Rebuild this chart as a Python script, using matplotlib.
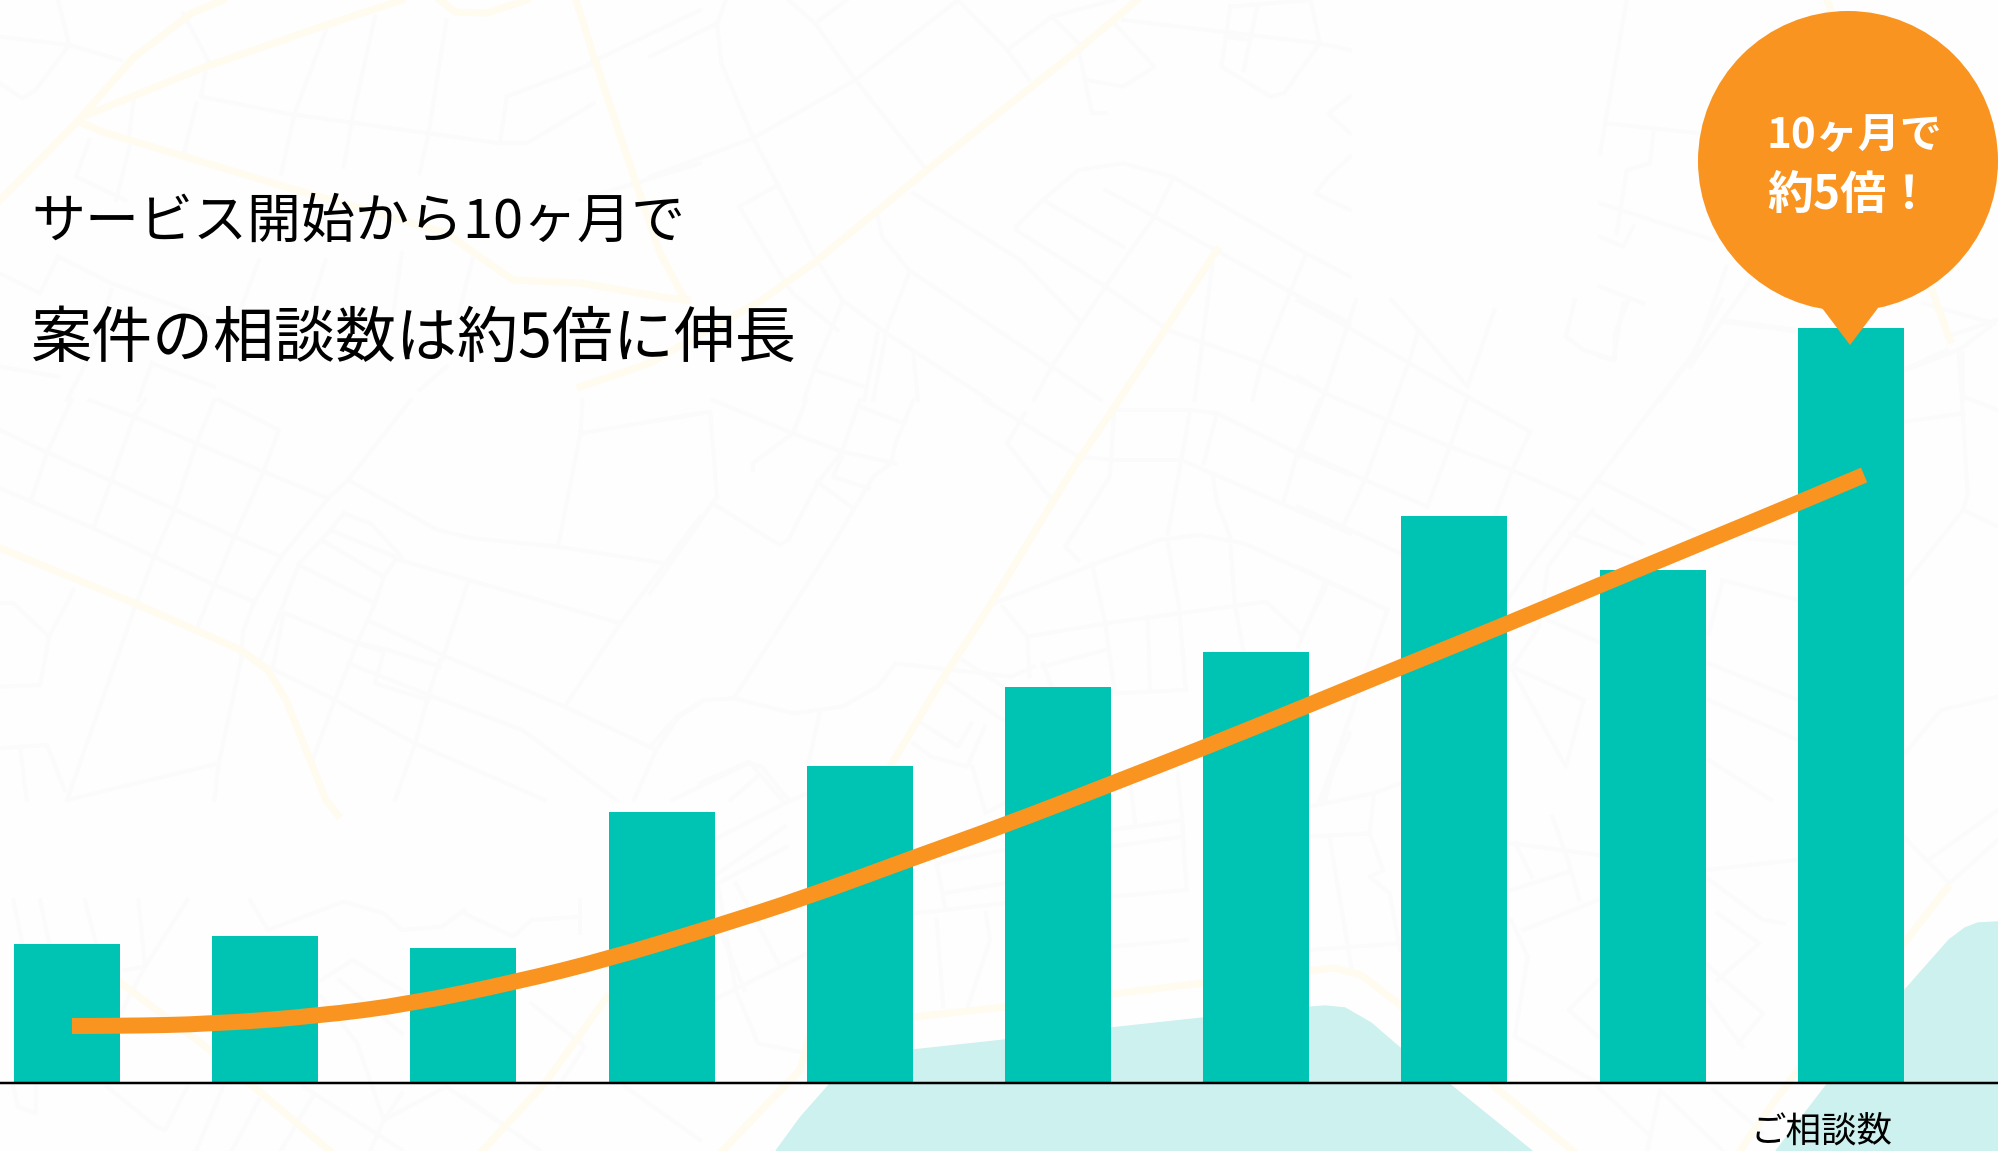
"""plot.py - ご相談数の月次推移（棒グラフ＋近似曲線）を地図風の背景の上に描く。"""

import matplotlib
matplotlib.use("Agg")
import matplotlib.pyplot as plt
from matplotlib.patches import Circle, PathPatch, Polygon
from matplotlib.path import Path

plt.rcParams["font.family"] = ["Noto Sans CJK JP", "DejaVu Sans"]

WIDTH, HEIGHT = 1998, 1151
BASE_Y = 1083          # 棒の基線（ピクセル）
FIRST_X = 67           # 1本目の棒の中心
STEP_X = 198.2         # 棒の間隔
BAR_WIDTH = 106 / STEP_X

# データ（単位は任意）
months = [0, 1, 2, 3, 4, 5, 6, 7, 8, 9]
counts = [139, 147, 135, 271, 317, 396, 431, 567, 513, 755]

trend_x = [0.025, 0.267, 0.732, 1.266, 1.731, 2.265, 2.73, 3.264, 3.734, 4.268,
           4.733, 5.267, 5.732, 6.266, 6.731, 7.265, 7.735, 8.27, 8.734, 9.067]
trend_y = [57, 57, 59, 67, 79, 101, 124, 156, 186, 225,
           258, 299, 335, 378, 416, 459, 498, 542, 580, 608]

title_lines = ["サービス開始から10ヶ月で", "案件の相談数は約5倍に伸長"]
callout_lines = ["10ヶ月で", "約5倍！"]
series_label = "ご相談数"

TEAL = "#00C4B3"
ORANGE = "#F99420"
WATER = "#CDF1EE"
STREET = "#FBFBFB"
ROAD = "#FFFBEE"

# 背景の地図：太い道路（ピクセル座標）
ROADS = [
    [(0, 200), (76, 123), (134, 57), (192, 13), (223, 0)],
    [(87, 115), (205, 67), (326, 25), (402, 0)],
    [(80, 122), (103, 132), (286, 187), (446, 233), (513, 280), (580, 283), (668, 298), (687, 300)],
    [(580, 387), (650, 363), (762, 300), (815, 262), (927, 170), (1078, 50), (1137, 0)],
    [(576, 0), (594, 57), (634, 177), (660, 253), (685, 300)],
    [(440, 0), (455, 12), (487, 13), (527, 0)],
    [(1217, 250), (1119, 400), (1074, 467), (989, 607), (940, 683), (891, 765), (855, 840),
     (820, 1000), (800, 1070), (722, 1151)],
    [(0, 548), (134, 603), (241, 650), (268, 670), (286, 700), (326, 800), (338, 815)],
    [(110, 975), (210, 1050), (330, 1151)],
    [(607, 997), (545, 1083), (482, 1151)],
    [(913, 1017), (1005, 1007), (1203, 983), (1334, 968), (1361, 975), (1400, 1005), (1495, 1087),
     (1573, 1151)],
    [(1740, 1151), (1763, 1117), (1798, 1070), (1904, 943), (1947, 888)],
    [(1827, 0), (1950, 340)],
]

# 背景の地図：水域
WATER_AREAS = [
    [(776, 1151), (800, 1118), (829, 1085), (880, 1056), (913, 1050), (1005, 1040), (1111, 1028), (1203, 1018),
     (1300, 1008), (1325, 1006), (1345, 1008), (1371, 1023), (1400, 1048), (1453, 1087), (1532, 1151)],
    [(1776, 1151), (1825, 1087), (1904, 991), (1949, 940), (1965, 928), (1978, 923), (1998, 922),
     (1998, 1151)],
]

# 背景の地図：細い街路。区画ごとに (原点x, 原点y, x倍率, y倍率, 折れ線群)
STREET_BLOCKS = [
    (0, 400, 2.24, 3, [
        [(160, 0), (105, 160), (70, 300)],
        [(325, 0), (300, 50), (250, 240), (210, 380)],
        [(480, 0), (440, 130), (390, 330), (345, 470), (300, 630), (150, 1200)],
        [(0, 90), (110, 160), (245, 240), (385, 325), (525, 410), (630, 470)],
        [(200, 0), (300, 50), (440, 130), (590, 215), (735, 295)],
        [(0, 265), (70, 305), (210, 385), (345, 470), (480, 555), (570, 605)],
        [(490, 0), (625, 90), (590, 215), (525, 410), (480, 555), (440, 690)],
        [(920, 0), (780, 240), (735, 295), (630, 470), (570, 605), (545, 690), (540, 780), (490, 1090), (480, 1200)],
        [(780, 240), (980, 390), (1060, 415), (1250, 440), (1490, 490)],
        [(1305, 0), (1300, 100), (1250, 440)],
        [(1300, 100), (1568, 40)],
        [(1568, 350), (1490, 490), (1390, 670), (1265, 920)],
        [(895, 480), (1050, 540), (1390, 670)],
        [(1050, 540), (990, 780)],
        [(770, 340), (740, 390), (720, 420), (670, 490), (630, 630), (580, 790)],
        [(770, 340), (830, 370), (900, 470)],
        [(740, 390), (885, 470)],
        [(720, 420), (860, 530)],
        [(670, 495), (840, 610)],
        [(885, 480), (860, 530), (840, 610), (800, 730), (750, 900), (700, 1080)],
        [(640, 640), (790, 725), (870, 750), (985, 800)],
        [(830, 665), (1000, 770), (1265, 920), (1470, 1050)],
        [(635, 645), (610, 810)],
        [(800, 730), (860, 755), (840, 850), (960, 900)],
        [(780, 790), (960, 885), (1170, 990), (1380, 1200)],
        [(540, 760), (750, 900), (930, 1030), (1220, 1200)],
        [(985, 780), (960, 885), (930, 1030), (885, 1200)],
        [(165, 570), (110, 710), (90, 855), (0, 860)],
        [(0, 610), (30, 610), (110, 710)],
        [(0, 1045), (105, 1035), (145, 1170)],
        [(45, 1045), (60, 1200)],
        [(150, 1200), (490, 1090)],
        [(1470, 1050), (1420, 1200)],
        [(1470, 1050), (1520, 950), (1568, 910)],
    ]),
    (0, 0, 2.24, 3, [
        [(130, 0), (155, 135), (80, 270), (50, 295), (0, 250)],
        [(0, 110), (155, 135), (270, 180)],
        [(410, 40), (470, 190)],
        [(300, 290), (290, 400)],
        [(460, 220), (450, 290), (640, 340), (960, 400), (1120, 430), (1180, 430), (1330, 310)],
        [(1120, 430), (1135, 290), (1330, 190)],
        [(730, 90), (660, 340), (630, 520)],
        [(840, 50), (790, 350), (770, 500)],
        [(1000, 60), (960, 400), (940, 520)],
        [(1320, 190), (1568, 30)],
        [(200, 420), (170, 530), (280, 600)],
        [(290, 440), (260, 600)],
        [(440, 310), (410, 470)],
        [(130, 770), (90, 880), (0, 820)],
        [(130, 770), (250, 850), (480, 960)],
        [(580, 780), (530, 960)],
        [(730, 780), (700, 900)],
        [(900, 760), (880, 950)],
        [(1060, 770), (1020, 980)],
        [(250, 870), (200, 1070), (150, 1200)],
        [(0, 1100), (130, 1130)],
        [(340, 1090), (310, 1200)],
        [(340, 1090), (480, 1160)],
        [(1000, 1100), (940, 1170)],
        [(1568, 490), (1300, 600)],
    ]),
    (650, 0, 2.24, 3, [
        [(170, 0), (150, 70), (0, 170)],
        [(150, 70), (160, 190), (230, 410), (300, 590), (370, 770), (430, 900), (530, 1000), (760, 1200)],
        [(230, 415), (0, 530)],
        [(280, 560), (200, 620), (300, 840), (320, 880), (420, 990)],
        [(310, 0), (370, 70), (460, 240), (620, 510)],
        [(440, 0), (370, 70)],
        [(690, 0), (800, 150), (850, 240)],
        [(230, 415), (460, 240), (690, 0)],
        [(800, 150), (900, 50), (1040, 0)],
        [(900, 50), (960, 130)],
        [(1060, 60), (1500, 130), (1568, 150)],
        [(1040, 70), (1130, 200), (1060, 260), (980, 240)],
        [(960, 150), (990, 340), (1020, 340)],
        [(1300, 20), (1280, 200), (1390, 290), (1420, 280), (1500, 130), (1480, 0)],
        [(1360, 20), (1330, 210)],
        [(1300, 20), (1480, 0)],
        [(1290, 110), (1340, 120)],
        [(590, 580), (830, 780), (960, 960)],
        [(510, 650), (520, 710), (580, 810), (900, 1100), (1010, 1200)],
        [(580, 820), (530, 990), (500, 1200)],
        [(430, 910), (370, 1100), (345, 1200)],
        [(370, 1110), (480, 1160)],
        [(510, 1000), (480, 1200)],
        [(590, 1060), (600, 1200)],
        [(820, 680), (880, 600), (960, 510), (1060, 490), (1170, 530), (1470, 760), (1568, 830)],
        [(820, 690), (1020, 860), (1160, 990), (1370, 1090), (1500, 1170)],
        [(880, 600), (1060, 740)],
        [(1020, 570), (1130, 650), (1280, 760), (1440, 880), (1568, 970)],
        [(1170, 540), (1130, 650), (1020, 860), (900, 1100), (860, 1200)],
        [(1470, 760), (1430, 890), (1370, 1090), (1350, 1200)],
        [(1260, 790), (1220, 1200)],
        [(1568, 290), (1520, 340), (1568, 400)],
        [(1568, 470), (1520, 530), (1490, 580), (1568, 630)],
    ]),
    (650, 400, 2.24, 3, [
        [(0, 65), (135, 35), (150, 290)],
        [(140, 0), (320, 100), (430, 155), (550, 190)],
        [(350, 0), (320, 100), (230, 190), (230, 210)],
        [(470, 0), (430, 155), (375, 250), (310, 420), (290, 435), (140, 310)],
        [(375, 245), (450, 320)],
        [(150, 290), (0, 580)],
        [(590, 0), (550, 130), (540, 190), (500, 230), (420, 410), (190, 890)],
        [(430, 170), (410, 230), (490, 265)],
        [(470, 20), (570, 70)],
        [(0, 1040), (60, 950), (120, 900), (190, 895), (320, 940), (430, 920), (510, 860), (550, 790),
         (810, 830), (860, 800)],
        [(380, 940), (355, 1090)],
        [(50, 1200), (220, 1090), (250, 1100), (310, 1200)],
        [(180, 1200), (240, 1130)],
        [(700, 780), (860, 920)],
        [(660, 840), (790, 960)],
        [(590, 1030), (630, 1070), (710, 1100), (750, 980)],
        [(610, 970), (690, 1040), (720, 970)],
        [(750, 0), (960, 170), (1040, 180), (1190, 180), (1568, 400)],
        [(840, 40), (800, 130), (900, 300)],
        [(1190, 180), (1160, 400)],
        [(1040, 30), (1210, 30), (1270, 40), (1450, 160), (1568, 225)],
        [(1210, 30), (1190, 180)],
        [(1270, 40), (1240, 190)],
        [(1040, 30), (1030, 230), (930, 440), (960, 480)],
        [(1450, 160), (1420, 300)],
        [(1260, 220), (1270, 310), (1300, 410)],
        [(770, 610), (1000, 490), (1140, 420), (1230, 405), (1330, 430), (1568, 575)],
        [(790, 620), (845, 710), (1020, 670), (1380, 605), (1460, 705), (1515, 560)],
        [(990, 490), (1020, 670), (1040, 870)],
        [(1160, 430), (1185, 620), (1200, 870)],
        [(1300, 440), (1310, 610), (1330, 760)],
        [(1115, 650), (1120, 870)],
        [(845, 710), (850, 830)],
        [(880, 800), (1020, 750)],
        [(880, 790), (900, 860)],
        [(1040, 880), (1200, 870)],
        [(1500, 0), (1450, 160)],
        [(1568, 1000), (1500, 1200)],
    ]),
    (1298, 300, 2.24, 3, [
        [(130, 0), (60, 280), (0, 470)],
        [(0, 0), (110, 80), (250, 190), (380, 290), (520, 395), (480, 510), (440, 650)],
        [(0, 230), (60, 280), (200, 360), (340, 440), (480, 510), (630, 600)],
        [(270, 90), (250, 180), (200, 360), (150, 540), (100, 680)],
        [(210, 0), (270, 90), (380, 260), (440, 30)],
        [(380, 290), (340, 440), (290, 620)],
        [(0, 450), (150, 540), (290, 620)],
        [(0, 620), (100, 680), (230, 760)],
        [(0, 800), (60, 840), (200, 930)],
        [(60, 850), (0, 1040)],
        [(950, 0), (880, 170), (670, 540), (530, 780), (470, 900)],
        [(670, 540), (900, 700), (1120, 730)],
        [(620, 0), (600, 110), (640, 150), (710, 180), (710, 100), (740, 0)],
        [(950, 65), (1120, 95)],
        [(660, 630), (610, 710), (560, 800), (540, 980), (480, 1100), (640, 1200)],
        [(660, 640), (770, 730)],
        [(610, 700), (780, 790)],
        [(950, 840), (1120, 900)],
        [(950, 850), (920, 1000)],
        [(560, 960), (680, 1030)],
        [(920, 1090), (1120, 1200)],
        [(480, 1110), (600, 1400), (640, 1200)],
        [(920, 1200), (1120, 1320)],
        [(920, 1380), (1060, 1500)],
        [(200, 930), (130, 1200), (50, 1500)],
        [(1360, 210), (1480, 150), (1500, 580), (1490, 630), (1360, 850)],
        [(1360, 365), (1490, 340)],
        [(1490, 290), (1568, 330)],
        [(1490, 630), (1568, 680)],
        [(1360, 1360), (1440, 1230), (1568, 1190)],
        [(1480, 150), (1560, 70), (1400, 10)],
    ]),
    (700, 750, 2.24, 3, [
        [(0, 100), (110, 35), (190, 160), (240, 130)],
        [(190, 160), (30, 270)],
        [(190, 230), (30, 380)],
        [(195, 290), (40, 400)],
        [(40, 400), (80, 720), (130, 880), (240, 910)],
        [(80, 400), (180, 650)],
        [(50, 560), (100, 720)],
        [(0, 770), (240, 610)],
        [(480, 490), (680, 460)],
        [(530, 510), (545, 770)],
        [(640, 490), (650, 570), (600, 770)],
        [(530, 340), (550, 480)],
        [(530, 340), (680, 300)],
        [(545, 430), (680, 400)],
        [(610, 50), (640, 190), (680, 160)],
        [(920, 240), (1080, 210), (1090, 420), (920, 440)],
        [(920, 290), (1080, 260)],
        [(960, 60), (975, 220)],
        [(1070, 70), (1080, 210)],
        [(920, 590), (1090, 570)],
        [(1364, 170), (1510, 130), (1500, 250), (1530, 360), (1500, 380), (1545, 430), (1568, 600)],
        [(1364, 260), (1500, 250)],
        [(1410, 260), (1450, 580), (1460, 660)],
        [(1364, 600), (1568, 580)],
        [(1510, 130), (1568, 100)],
        [(1430, 0), (1400, 150)],
    ]),
    (1350, 800, 2.42, 3, [
        [(390, 130), (600, 165)],
        [(490, 50), (530, 190), (555, 300)],
        [(400, 130), (440, 230)],
        [(390, 270), (530, 215)],
        [(420, 390), (600, 300)],
        [(390, 360), (430, 470), (400, 700)],
        [(860, 210), (1080, 180)],
        [(860, 230), (1000, 360), (1050, 370)],
        [(890, 340), (990, 430), (890, 540)],
        [(860, 490), (1000, 640), (940, 730)],
        [(860, 590), (950, 740)],
        [(530, 630), (600, 540)],
        [(530, 630), (600, 710)],
        [(400, 710), (600, 850)],
        [(1340, 110), (1450, 250), (1568, 120)],
        [(1400, 180), (1568, 30)],
        [(600, 860), (720, 1000)],
        [(720, 1050), (750, 870), (900, 1050)],
        [(880, 870), (1000, 1000)],
    ]),
    (0, 900, 2.24, 3, [
        [(30, 0), (50, 130)],
        [(90, 0), (110, 130)],
        [(190, 0), (215, 130)],
        [(310, 0), (325, 200), (280, 210)],
        [(420, 0), (325, 200), (270, 340)],
        [(30, 560), (40, 620), (80, 640), (80, 560)],
        [(240, 560), (350, 680), (370, 690), (420, 560)],
        [(560, 0), (600, 90), (770, 5), (860, 40), (900, 90), (990, 80), (1040, 30)],
        [(1040, 40), (1150, 110), (1190, 60), (1300, 50)],
        [(720, 240), (790, 180), (910, 280)],
        [(760, 240), (900, 400)],
        [(1190, 310), (1310, 440), (1250, 560)],
        [(720, 290), (800, 430), (860, 660), (830, 750)],
        [(500, 560), (440, 750)],
        [(580, 600), (520, 750)],
        [(700, 590), (630, 750)],
        [(680, 560), (900, 750)],
        [(900, 580), (860, 660), (1000, 560), (1110, 660)],
        [(1040, 590), (1210, 753)],
        [(1300, 100), (1300, 0)],
        [(1400, 560), (1568, 720)],
    ]),
    (1600, 0, 3, 3, [
        [(80, 0), (0, 460)],
        [(20, 370), (300, 400)],
        [(160, 400), (150, 490), (80, 510), (50, 700)],
        [(0, 610), (340, 720)],
        [(100, 680), (70, 740), (0, 710)],
        [(0, 860), (130, 910)],
        [(70, 910), (40, 1080), (0, 1070)],
        [(380, 800), (290, 1050), (180, 1200)],
        [(460, 830), (270, 1100)],
        [(370, 960), (590, 990)],
        [(1040, 1010), (1190, 960)],
        [(1090, 1060), (1090, 1200)],
        [(910, 1110), (1040, 1050)],
    ]),
]


def px(n):
    """ピクセル幅をポイントに換算する（dpi=100）。"""
    return n * 0.72


def draw_map(ax):
    """背景の地図（街路・道路・水域）を描く。"""
    for x0, y0, sx, sy, lines in STREET_BLOCKS:
        for line in lines:
            xs = [x0 + p[0] / sx for p in line]
            ys = [y0 + p[1] / sy for p in line]
            ax.plot(xs, ys, color=STREET, lw=px(4), solid_joinstyle="round", zorder=1)
    for line in ROADS:
        ax.plot([p[0] for p in line], [p[1] for p in line], color=ROAD, lw=px(7),
                solid_joinstyle="round", zorder=2)
    for area in WATER_AREAS:
        ax.add_patch(Polygon(area, closed=True, facecolor=WATER, edgecolor=WATER, lw=1,
                             joinstyle="round", zorder=3))


def smooth_path(xs, ys):
    """読み取った点を制御点にして、なめらかな曲線のパスを作る。"""
    pts = list(zip(xs, ys))
    verts = [pts[0]]
    codes = [Path.MOVETO]
    for i in range(1, len(pts) - 1):
        end = pts[-1] if i == len(pts) - 2 else ((pts[i][0] + pts[i + 1][0]) / 2,
                                                 (pts[i][1] + pts[i + 1][1]) / 2)
        verts += [pts[i], end]
        codes += [Path.CURVE3, Path.CURVE3]
    return Path(verts, codes)


fig = plt.figure(figsize=(WIDTH / 100, HEIGHT / 100), dpi=100, facecolor="#FEFEFE")

# 背景（ピクセル座標）
ax_map = fig.add_axes([0, 0, 1, 1])
ax_map.set_xlim(0, WIDTH)
ax_map.set_ylim(HEIGHT, 0)
ax_map.axis("off")
draw_map(ax_map)

# グラフ本体：x は月の番号、y は相談数
ax = fig.add_axes([0, 0, 1, 1])
ax.patch.set_alpha(0)
ax.set_xlim(-FIRST_X / STEP_X, (WIDTH - FIRST_X) / STEP_X)
ax.set_ylim(BASE_Y - HEIGHT, BASE_Y)
ax.axis("off")
ax.bar(months, counts, width=BAR_WIDTH, color=TEAL, linewidth=0, zorder=2)
ax.add_patch(PathPatch(smooth_path(trend_x, trend_y), fill=False, edgecolor=ORANGE, lw=px(16),
                       capstyle="butt", zorder=3))
ax.axhline(0, color="black", lw=px(2.5), zorder=4)

# 吹き出しと文字（ピクセル座標）
ax_top = fig.add_axes([0, 0, 1, 1])
ax_top.patch.set_alpha(0)
ax_top.set_xlim(0, WIDTH)
ax_top.set_ylim(HEIGHT, 0)
ax_top.axis("off")
ax_top.add_patch(Circle((1848, 161), 150, facecolor=ORANGE, edgecolor="none"))
ax_top.add_patch(Polygon([(1822, 308), (1878, 308), (1850, 345)], closed=True,
                         facecolor=ORANGE, edgecolor="none"))

ax_top.text(31, 222, title_lines[0], fontsize=px(54), color="black", ha="left", va="center")
ax_top.text(31, 340, title_lines[1], fontsize=px(61), color="black", ha="left", va="center")
ax_top.text(1767, 136, callout_lines[0], fontsize=px(42), color="white", ha="left", va="center",
            fontweight="bold")
ax_top.text(1767, 195, callout_lines[1], fontsize=px(46), color="white", ha="left", va="center",
            fontweight="bold")
ax_top.text(1822, 1132, series_label, fontsize=px(35.5), color="black", ha="center", va="center")

fig.savefig("out.png", dpi=100, facecolor=fig.get_facecolor())
plt.close(fig)
